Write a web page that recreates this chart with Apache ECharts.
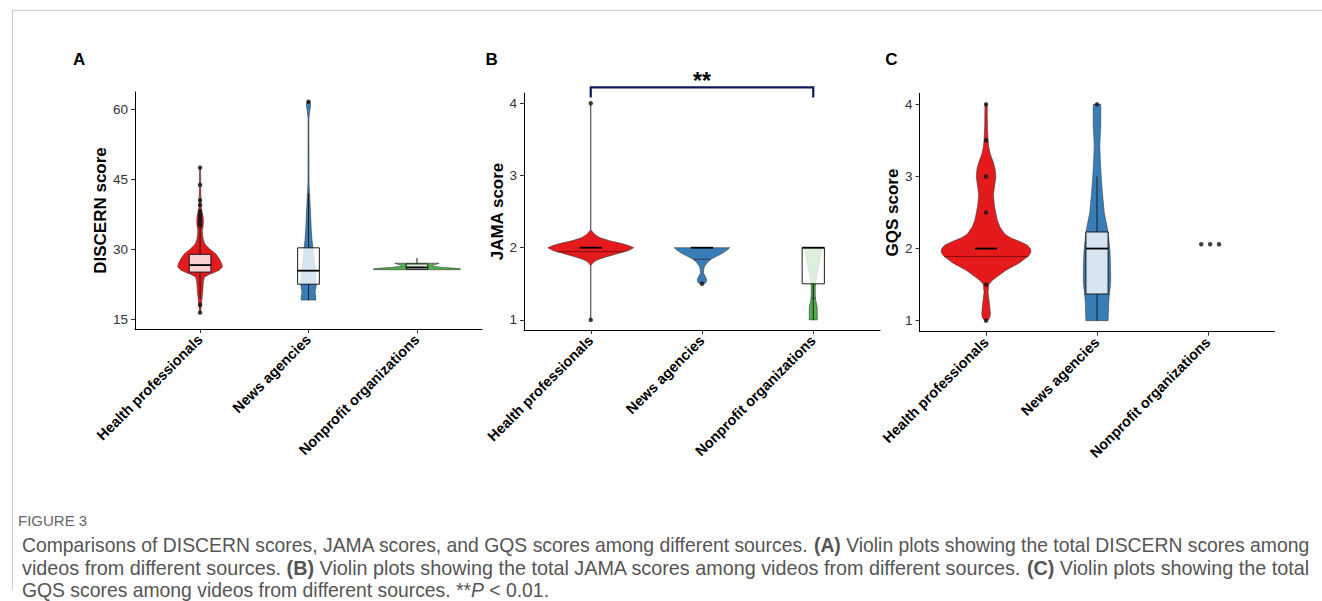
<!DOCTYPE html>
<html><head><meta charset="utf-8">
<script src="https://cdn.jsdelivr.net/npm/echarts@6/dist/echarts.min.js"></script>
<style>html,body{margin:0;padding:0;background:#fff;} #chart{width:1322px;height:601px;}</style>
</head><body><div id="chart"></div>
<script>
// ---------- DATA ----------
const categories = ['Health professionals', 'News agencies', 'Nonprofit organizations'];
const discernTicks = [15, 30, 45, 60];
const scoreTicks = [1, 2, 3, 4];

// Violin density profiles: [score, half-width density (category units)]
const discernHealthDensity = [[16.4,0.004],[18,0.012],[20,0.02],[21,0.025],[23,0.03],[24,0.04],[24.5,0.074],[25,0.13],[25.5,0.176],[26.2,0.207],[27,0.198],[28,0.176],[29,0.146],[30,0.092],[31,0.048],[32,0.03],[33,0.024],[34,0.02],[34.6,0.026],[35.5,0.03],[36.5,0.03],[37.5,0.024],[38.5,0.012],[40,0.008],[44,0.006],[47.6,0.004]];
const discernNewsDensity = [[19.1,0],[19.1,0.068],[20,0.066],[20.8,0.06],[21.5,0.066],[22.5,0.071],[24,0.068],[26,0.062],[28,0.052],[30,0.042],[32,0.032],[34,0.026],[36,0.022],[38,0.018],[40,0.014],[42,0.01],[44,0.005],[58,0.004],[59.8,0.012],[60.5,0.018],[61.3,0.018],[61.7,0.01],[61.8,0]];
const discernNonprofitDensity = [[25.6,0],[25.62,0.40],[25.8,0.40],[25.95,0.33],[26.1,0.24],[26.3,0.16],[26.45,0.14],[26.6,0.15],[26.8,0.18],[27.0,0.205],[27.0,0]];
const jamaHealthDensity = [[1.0,0.0012],[1.75,0.0012],[1.78,0.015],[1.8,0.025],[1.82,0.045],[1.84,0.075],[1.87,0.135],[1.9,0.2],[1.93,0.27],[1.96,0.34],[2.0,0.386],[2.03,0.34],[2.06,0.27],[2.1,0.16],[2.14,0.08],[2.18,0.04],[2.22,0.015],[2.25,0.0012],[4.0,0.0012]];
const jamaNewsDensity = [[1.5,0],[1.5,0.025],[1.53,0.04],[1.56,0.042],[1.6,0.03],[1.65,0.013],[1.7,0.016],[1.74,0.022],[1.8,0.05],[1.84,0.08],[1.88,0.13],[1.92,0.18],[1.96,0.22],[2.0,0.25],[2.0,0]];
const jamaNonprofitDensity = [[1.0,0],[1.0,0.036],[1.15,0.036],[1.2,0.033],[1.27,0.022],[1.35,0.018],[1.45,0.018],[1.5,0.02],[1.6,0.03],[1.7,0.042],[1.8,0.055],[1.9,0.068],[2.0,0.078],[2.0,0]];
const gqsHealthDensity = [[1.0,0],[1.02,0.025],[1.06,0.036],[1.1,0.039],[1.2,0.033],[1.3,0.025],[1.4,0.018],[1.5,0.025],[1.55,0.05],[1.6,0.09],[1.7,0.18],[1.8,0.3],[1.9,0.385],[1.95,0.405],[2.0,0.4],[2.05,0.37],[2.1,0.3],[2.15,0.22],[2.2,0.17],[2.3,0.125],[2.4,0.1],[2.5,0.087],[2.6,0.075],[2.75,0.066],[2.9,0.08],[3.0,0.088],[3.1,0.082],[3.2,0.065],[3.3,0.04],[3.4,0.025],[3.5,0.018],[3.7,0.012],[4.0,0.01],[4.0,0]];
const gqsNewsDensity = [[1.0,0],[1.0,0.1],[1.26,0.105],[1.54,0.123],[1.75,0.122],[1.96,0.117],[2.23,0.1],[2.5,0.065],[2.75,0.05],[2.97,0.039],[3.2,0.03],[3.43,0.025],[3.6,0.03],[3.7,0.034],[4.0,0.034],[4.0,0]];
const gqsNonprofitDensity = [];

// Box stats: [q1, median, q3, whiskerLow, whiskerHigh]
const discernBox = [[25.1,26.6,28.9,19.4,34.6],[22.5,25.4,30.3,19.1,42.0],[25.7,26.1,26.85,25.7,28.1]];
const jamaBox = [[2,2,2,2,2],[2,2,2,2,2],[1.5,2,2,1.0,2]];
const gqsBox = [[2,2,2,2,2],[1.37,2.0,2.23,1.0,3.0],null];

// Violin quantile lines
const discernQuantile = [null, null, null];
const jamaQuantile = [1.946, 1.84, 1.3];
const gqsQuantile = [1.89, null, null];

// Individual points: [group, score]
const discernPoints = [[0,47.5],[0,43.8],[0,40.5],[0,39.5],[0,38.2],[0,37.5],[0,36.9],[0,36.3],[0,35.7],[0,35.1],[0,18.1],[0,16.4],[1,61.6]];
const jamaPoints = [[0,4],[0,1],[1,1.5]];
const gqsPoints = [[0,4],[0,3.5],[0,3],[0,2.5],[0,1.5],[0,1],[1,4],[1.94,2.06],[2.02,2.06],[2.1,2.06]];

// Significance: [groupA, groupB, barScore, legEndScore, label]
const jamaSignificance = [[0, 2, 4.22, 4.08, '**']];

// Caption text
const captionLines = [
  'Comparisons of DISCERN scores, JAMA scores, and GQS scores among different sources. {b|(A)} Violin plots showing the total DISCERN scores among',
  'videos from different sources. {b|(B)} Violin plots showing the total JAMA scores among videos from different sources. {b|(C)} Violin plots showing the total',
  'GQS scores among videos from different sources. **{i|P} < 0.01.'
];

// ---------- CHART ----------
const FONT = '"Liberation Sans", Arial, Helvetica, sans-serif';
const violinColors = ['#E41A1C', '#377EB8', '#4DAF4A'];

const panels = [
  { grid:{left:135, top:92, width:347, height:237}, yMin:12.9, yMax:63.7, ticks:discernTicks, name:'DISCERN score', nameGap:24,
    dens:[discernHealthDensity, discernNewsDensity, discernNonprofitDensity], box:discernBox, quant:discernQuantile, points:discernPoints },
  { grid:{left:524, top:93, width:356, height:237}, yMin:0.86, yMax:4.143, ticks:scoreTicks, name:'JAMA score', nameGap:15,
    dens:[jamaHealthDensity, jamaNewsDensity, jamaNonprofitDensity], box:jamaBox, quant:jamaQuantile, points:jamaPoints },
  { grid:{left:919.5, top:93.3, width:355, height:238.4}, yMin:0.847, yMax:4.153, ticks:scoreTicks, name:'GQS score', nameGap:15,
    dens:[gqsHealthDensity, gqsNewsDensity, gqsNonprofitDensity], box:gqsBox, quant:gqsQuantile, points:gqsPoints }
];

function widthAt(prof, v) {
  for (let k = 0; k < prof.length - 1; k++) {
    const a = prof[k], b = prof[k+1];
    if (v >= a[0] && v <= b[0] && b[0] > a[0]) {
      return a[1] + (b[1]-a[1]) * (v - a[0]) / (b[0]-a[0]);
    }
  }
  return 0;
}

const grids = [], xAxes = [], yAxes = [], series = [];
panels.forEach((p, k) => {
  grids.push(Object.assign({containLabel:false}, p.grid));
  xAxes.push({
    type:'value', gridIndex:k, min:-0.6, max:2.6,
    axisLine:{show:true, onZero:false, lineStyle:{color:'#000', width:1}},
    axisTick:{show:true, customValues:[0,1,2], length:4, lineStyle:{color:'#333'}},
    axisLabel:{show:true, customValues:[0,1,2], formatter:(v) => categories[Math.round(v)], rotate:45, margin:8,
      fontFamily:FONT, fontWeight:'bold', fontSize:14.5, color:'#000'},
    splitLine:{show:false}
  });
  yAxes.push({
    type:'value', gridIndex:k, min:p.yMin, max:p.yMax,
    axisLine:{show:true, onZero:false, lineStyle:{color:'#000', width:1}},
    axisTick:{show:true, customValues:p.ticks, length:4, lineStyle:{color:'#333'}},
    axisLabel:{show:true, customValues:p.ticks, margin:7, fontFamily:FONT, fontSize:13.5, color:'#333'},
    splitLine:{show:false},
    name:p.name, nameLocation:'middle', nameGap:p.nameGap,
    nameTextStyle:{fontFamily:FONT, fontWeight:'bold', fontSize:17, color:'#000'}
  });
  // violins
  series.push({
    type:'custom', xAxisIndex:k, yAxisIndex:k, z:2, silent:true,
    data:p.dens.map((d, i) => [i, d.length ? d[0][0] : 0]),
    renderItem:(params, api) => {
      const i = params.dataIndex, prof = p.dens[i];
      if (!prof || !prof.length) return null;
      const right = prof.map(([v, w]) => api.coord([i + w, v]));
      const left = prof.slice().reverse().map(([v, w]) => api.coord([i - w, v]));
      const children = [{type:'polygon', shape:{points:right.concat(left)},
        style:{fill:violinColors[i], stroke:'#3b3b3b', lineWidth:0.6}}];
      const q = p.quant[i];
      if (q != null) {
        const w = widthAt(prof, q);
        const a = api.coord([i - w, q]), b = api.coord([i + w, q]);
        children.push({type:'line', shape:{x1:a[0], y1:a[1], x2:b[0], y2:b[1]}, style:{stroke:'rgba(60,0,0,0.55)', lineWidth:1}});
      }
      return {type:'group', children};
    }
  });
  // boxes
  series.push({
    type:'custom', xAxisIndex:k, yAxisIndex:k, z:3, silent:true,
    data:p.box.map((b, i) => [i, b ? b[1] : 0]),
    renderItem:(params, api) => {
      const i = params.dataIndex, b = p.box[i];
      if (!b) return null;
      const [q1, med, q3, lo, hi] = b;
      const hw = 0.1;
      const children = [];
      const wl = (v1, v2) => { const a = api.coord([i, v1]), c = api.coord([i, v2]);
        children.push({type:'line', shape:{x1:a[0], y1:a[1], x2:c[0], y2:c[1]}, style:{stroke:'#1a1a1a', lineWidth:1}}); };
      if (lo < q1) wl(lo, q1);
      if (hi > q3) wl(q3, hi);
      const tl = api.coord([i - hw, q3]), br = api.coord([i + hw, q1]);
      if (q3 > q1) {
        children.push({type:'rect', shape:{x:tl[0], y:tl[1], width:br[0]-tl[0], height:br[1]-tl[1]},
          style:{fill:'rgba(255,255,255,0.8)', stroke:'#1a1a1a', lineWidth:1}});
      }
      const m1 = api.coord([i - hw, med]), m2 = api.coord([i + hw, med]);
      children.push({type:'line', shape:{x1:m1[0], y1:m1[1], x2:m2[0], y2:m2[1]}, style:{stroke:'#000', lineWidth:1.8}});
      return {type:'group', children};
    }
  });
  // points
  series.push({
    type:'scatter', xAxisIndex:k, yAxisIndex:k, z:4, silent:true,
    data:p.points, symbol:'circle', symbolSize:4.5, itemStyle:{color:'#111'}
  });
});

// significance bracket in panel B
series.push({
  type:'custom', xAxisIndex:1, yAxisIndex:1, z:5, clip:false, silent:true,
  data:jamaSignificance.map(s => [s[0], s[2]]),
  renderItem:(params, api) => {
    const s = jamaSignificance[params.dataIndex];
    const p1 = api.coord([s[0], s[3]]), p2 = api.coord([s[0], s[2]]);
    const p3 = api.coord([s[1], s[2]]), p4 = api.coord([s[1], s[3]]);
    return {type:'group', children:[
      {type:'polyline', shape:{points:[p1, p2, p3, p4]}, style:{stroke:'#0c1a5a', lineWidth:2.2, fill:null}},
      {type:'text', x:(p2[0] + p3[0]) / 2, y:p2[1] - 6,
        style:{text:s[4], fontFamily:FONT, fontWeight:'bold', fontSize:23, fill:'#000', align:'center', verticalAlign:'middle'}}
    ]};
  }
});

function captionText(text, y, size) {
  return {type:'text', x:22, y:y, style:{text:text, fontFamily:FONT, fontSize:size, fill:'#555', align:'left', verticalAlign:'middle',
    rich:{
      b:{fontFamily:FONT, fontSize:size, fontWeight:'bold', fill:'#555'},
      i:{fontFamily:FONT, fontSize:size, fontStyle:'italic', fill:'#555'}
    }}};
}
const graphic = [
  {type:'line', shape:{x1:12, y1:10.5, x2:1322, y2:10.5}, style:{stroke:'#cfcfcf', lineWidth:1}},
  {type:'line', shape:{x1:12.5, y1:10, x2:12.5, y2:590}, style:{stroke:'#cfcfcf', lineWidth:1}},
  {type:'text', x:79.2, y:59, style:{text:'A', fontFamily:FONT, fontWeight:'bold', fontSize:17, fill:'#000', align:'center', verticalAlign:'middle'}},
  {type:'text', x:491.7, y:59, style:{text:'B', fontFamily:FONT, fontWeight:'bold', fontSize:17, fill:'#000', align:'center', verticalAlign:'middle'}},
  {type:'text', x:891.5, y:59, style:{text:'C', fontFamily:FONT, fontWeight:'bold', fontSize:17, fill:'#000', align:'center', verticalAlign:'middle'}},
  {type:'text', x:18, y:520, style:{text:'FIGURE 3', fontFamily:FONT, fontSize:15, fill:'#666', align:'left', verticalAlign:'middle'}},
  captionText(captionLines[0], 545, 19.35),
  captionText(captionLines[1], 568, 19.8),
  captionText(captionLines[2], 590, 19.35)
];

const chart = echarts.init(document.getElementById('chart'), null, {renderer:'svg', width:1322, height:601});
chart.setOption({
  animation:false,
  backgroundColor:'#fff',
  grid:grids, xAxis:xAxes, yAxis:yAxes, series, graphic
});
</script>
</body></html>
